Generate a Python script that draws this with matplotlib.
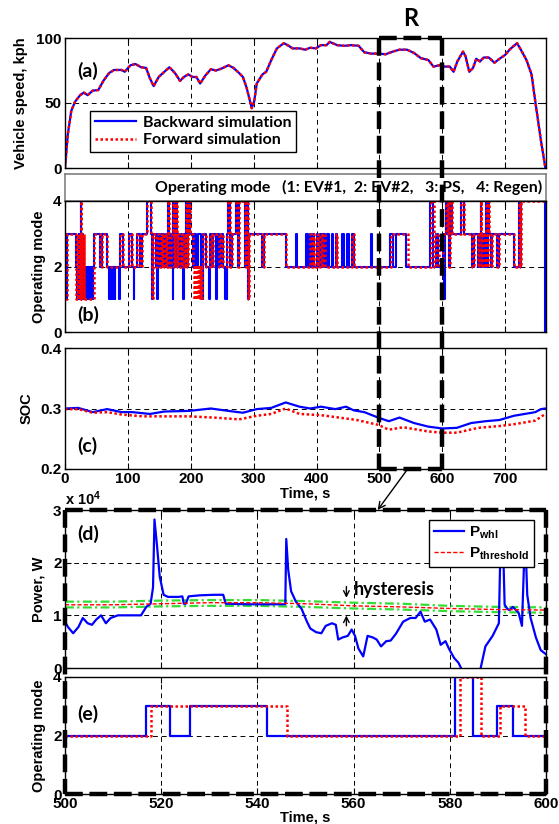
import matplotlib
matplotlib.use("Agg")
import matplotlib.pyplot as plt
from matplotlib.lines import Line2D
from matplotlib.patches import ConnectionPatch
import matplotlib.transforms as mtrans

plt.rcParams['font.family'] = ['Liberation Sans', 'DejaVu Sans']
plt.rcParams['font.weight'] = 'bold'
plt.rcParams['mathtext.fontset'] = 'custom'
plt.rcParams['mathtext.rm'] = 'Liberation Sans:bold'
plt.rcParams['mathtext.bf'] = 'Liberation Sans:bold'
plt.rcParams['mathtext.it'] = 'Liberation Sans:bold'

# ---------------- data ----------------
speed_t = [0, 4.5, 10, 16, 24, 30, 36, 44, 53, 61, 70, 78, 90, 95, 104, 112, 121, 129, 135, 141,
           149, 158, 166, 175, 183, 189, 196, 203, 209, 215, 223, 232, 240, 249, 260, 268, 277,
           283, 289, 297, 301, 305, 314, 320, 328, 337, 348, 354, 362, 373, 382, 390, 399, 407,
           416, 421, 433, 444, 455, 467, 476, 487, 498, 510, 521, 532, 544, 555, 566, 578, 586,
           595, 604, 612, 618, 624, 633, 637, 643, 649, 654, 660, 666, 674, 683, 691, 700, 708,
           719, 725, 734, 742, 748, 757, 764]
speed_bwd = [0, 26, 44, 51, 56, 58, 56, 59.5, 60, 67, 73, 75.4, 75.4, 74, 79, 80, 77.5, 77, 69, 63,
             70, 74, 77.5, 73, 67, 70, 72, 70, 70, 65, 71, 76, 75, 76.5, 79, 77, 73,
             70, 61.5, 46, 51.5, 65, 72, 74, 83, 92, 96, 94.5, 92, 92, 91, 92.5, 92, 94.5,
             94.5, 97, 94.5, 94, 94.5, 94, 89, 88, 88, 87.5, 89.5, 91, 91, 88.5, 84.5, 83, 78,
             79, 78, 78, 74, 82, 89.5, 86, 74, 77, 84, 82, 85, 85, 81, 84, 87, 91.5,
             96, 91, 83, 72, 51, 21, 0]
speed_fwd = list(speed_bwd)

mode_bwd = [(0, 0), (0.4, 1), (3, 3), (18, 2), (19, 1), (20, 2), (21, 1), (22, 3), (23, 1), (24, 2),
            (25, 4), (26, 1), (27, 3), (28, 1), (29, 2), (30, 1), (31, 2), (32, 1), (33, 2), (34, 1),
            (35, 2), (36, 1), (37, 2), (38, 1), (39, 2), (40, 1), (41, 2), (42, 1), (43, 2), (44, 1),
            (45, 2), (46, 3), (55, 2), (59, 3), (67, 2), (70, 1), (71, 2), (72, 1), (73, 2), (74, 1),
            (75, 2), (76, 1), (77, 2), (79, 1), (80, 2), (86, 1), (87, 2), (88, 3), (93, 2), (101, 3),
            (106, 2), (109, 1), (110, 2), (114, 3), (120, 2), (123, 3), (131, 4), (136, 3), (139, 1),
            (140, 3), (144, 2), (146, 3), (147, 1), (148, 3), (150, 2), (152, 3), (154, 2), (156, 3),
            (158, 2), (160, 3), (162, 2), (164, 4), (165, 3), (167, 2), (169, 3), (171, 1), (172, 4),
            (173, 2), (175, 3), (177, 4), (178, 2), (180, 3), (182, 2), (184, 3), (186, 2), (188, 1),
            (189, 3), (191, 2), (193, 4), (194, 2), (196, 3), (198, 4), (199, 3), (203, 2), (205, 3),
            (209, 2), (212, 3), (217, 2), (219, 1), (220, 3), (225, 2), (229, 1), (230, 3), (233, 2),
            (236, 3), (240, 1), (241, 3), (245, 2), (248, 3), (252, 2), (254, 1), (256, 2), (257, 1),
            (258, 3), (260, 4), (263, 2), (266, 3), (272, 4), (275, 2), (276, 4), (286, 2), (288, 4),
            (291, 1), (293, 3), (313, 2), (317, 3), (351, 2), (367, 3), (369, 2), (384, 3), (386, 2),
            (389, 3), (391, 2), (394, 3), (396, 2), (401, 3), (403, 2), (405, 3), (408, 2), (411, 3),
            (414, 2), (417, 3), (420, 2), (424, 3), (426, 2), (431, 3), (433, 2), (441, 3), (443, 2),
            (449, 3), (451, 2), (457, 3), (459, 2), (486, 3), (488, 2), (517, 3), (522, 2), (526, 3),
            (542, 2), (581, 4), (585, 2), (590, 3), (593, 2), (601, 3), (603, 1), (604, 3), (606, 4),
            (607, 3), (609, 4), (610, 2), (612, 3), (614, 4), (615, 3), (630, 4), (635, 3), (648, 2),
            (650, 3), (657, 2), (659, 3), (661, 4), (662, 2), (664, 3), (666, 2), (668, 3), (670, 4),
            (671, 2), (673, 4), (675, 3), (677, 2), (679, 3), (687, 2), (690, 3), (714, 2), (722, 4),
            (724, 2), (726, 4), (763, 0), (765, 0)]
mode_fwd = [(0, 1), (3, 3), (18, 1), (20, 3), (21, 1), (23, 3), (24, 1), (25, 4), (26, 1), (27, 3),
            (28, 1), (30, 3), (31, 1), (46, 3), (55, 2), (59, 3), (67, 2), (88, 3), (93, 2), (101, 3),
            (106, 2), (114, 3), (120, 2), (123, 3), (131, 4), (136, 3), (139, 1), (140, 3), (144, 2),
            (146, 3), (150, 2), (152, 3), (154, 2), (156, 3), (158, 2), (160, 3), (162, 2), (164, 4),
            (165, 3), (167, 2), (169, 3), (172, 4), (173, 2), (175, 3), (177, 4), (178, 2), (180, 3),
            (182, 2), (184, 3), (186, 2), (189, 3), (191, 2), (193, 4), (194, 2), (196, 3), (198, 4),
            (199, 3), (203, 2), (205, 1), (206, 2), (207, 1), (208, 2), (209, 1), (210, 2), (211, 1),
            (212, 2), (213, 1), (214, 2), (215, 1), (216, 2), (217, 1), (218, 2), (220, 3), (225, 2),
            (230, 3), (233, 2), (236, 3), (245, 2), (248, 3), (252, 2), (258, 3), (260, 4), (263, 2),
            (266, 3), (272, 4), (275, 2), (276, 4), (286, 2), (288, 4), (291, 1), (293, 3), (313, 2),
            (317, 3), (351, 2), (389, 3), (391, 2), (394, 3), (396, 2), (401, 3), (403, 2), (405, 3),
            (408, 2), (411, 3), (414, 2), (431, 3), (433, 2), (457, 3), (459, 2), (518, 3), (546, 2),
            (582, 4), (586.5, 2), (590.5, 3), (595.6, 2), (601, 3), (606, 4), (607, 3), (609, 4),
            (610, 2), (612, 3), (614, 4), (615, 3), (630, 4), (635, 3), (648, 2), (650, 3), (657, 2),
            (659, 3), (661, 4), (662, 2), (664, 3), (666, 2), (668, 3), (670, 4), (671, 2), (673, 4),
            (675, 3), (677, 2), (679, 3), (687, 2), (690, 3), (714, 2), (722, 4), (724, 2), (726, 4),
            (765, 4)]

soc_t_bwd = [0, 21, 44, 67, 90, 107, 135, 158, 197, 232, 260, 283, 305, 328, 351, 373, 390, 407,
             430, 447, 459, 476, 498, 515, 532, 555, 578, 600, 623, 646, 669, 691, 714, 737, 748,
             757, 764]
soc_bwd = [0.300, 0.301, 0.294, 0.299, 0.294, 0.294, 0.291, 0.295, 0.296, 0.300, 0.296, 0.293,
           0.299, 0.301, 0.310, 0.303, 0.300, 0.303, 0.299, 0.303, 0.297, 0.294, 0.285, 0.279,
           0.285, 0.276, 0.270, 0.267, 0.268, 0.276, 0.279, 0.281, 0.288, 0.292, 0.294, 0.299,
           0.300]
soc_t_fwd = [0, 21, 44, 67, 90, 124, 158, 197, 237, 277, 305, 328, 351, 373, 407, 436, 464, 498,
             515, 538, 578, 600, 623, 657, 691, 714, 737, 748, 764]
soc_fwd = [0.299, 0.299, 0.293, 0.294, 0.290, 0.287, 0.287, 0.287, 0.285, 0.282, 0.288, 0.291,
           0.300, 0.291, 0.289, 0.285, 0.281, 0.273, 0.265, 0.269, 0.262, 0.260, 0.260, 0.268,
           0.271, 0.274, 0.278, 0.280, 0.291]

pwr_t = [500, 500.6, 501.7, 502.8, 503.7, 504.7, 505.6, 506.5, 507.5, 508.5, 509.5, 511, 515.8,
         516.9, 517.8, 518.3, 518.6, 519.1, 519.7, 520.5, 521.4, 523.6, 524.4, 524.7, 525.1,
         525.7, 528, 531, 532.9, 533.4, 538.4, 545.8, 546, 546.4, 547, 548, 549.2, 550.3, 551,
         552.2, 553.3, 554.2, 555.5, 556.3, 556.8, 557.7, 558.8, 559.6, 560.3, 561, 562, 562.9,
         564, 564.8, 565.7, 566.8, 567.7, 568.8, 570.3, 571.8, 572.9, 573.9, 574.8, 575.9, 577.2,
         578.1, 579.1, 579.8, 580.9, 581.8, 582.6, 584, 586.3, 587.4, 588.9, 590.2, 590.6, 591.0,
         591.4, 592, 592.4, 593.1, 594.3, 595.0, 595.4, 595.8, 596.1, 596.8, 597.9, 598.9, 600]
pwr_whl = [0.88, 0.78, 0.66, 0.78, 0.95, 0.85, 0.82, 0.92, 1.0, 0.85, 0.95, 1.0, 1.0,
           1.16, 1.22, 1.53, 2.82, 2.35, 1.73, 1.39, 1.35, 1.35, 1.36, 1.22, 1.22,
           1.36, 1.38, 1.39, 1.39, 1.22, 1.21, 1.21, 2.45, 1.87, 1.46, 1.26, 1.12, 0.88, 0.75,
           0.68, 0.66, 0.80, 0.85, 0.82, 0.54, 0.58, 0.61, 0.73, 0.61, 0.37, 0.22, 0.61,
           0.58, 0.54, 0.41, 0.51, 0.52, 0.65, 0.88, 0.95, 0.95, 1.07, 0.88, 0.92, 0.73,
           0.44, 0.51, 0.37, 0.19, 0.10, -0.05, -0.6, -0.05, 0.41, 0.61, 0.85, 2.6, 2.6,
           1.2, 1.12, 1.1, 1.16, 1.05, 0.80, 1.9, 2.2, 1.39, 0.95, 0.58, 0.34, 0.26]
thr_t = [500, 510, 520, 530, 540, 550, 560, 570, 580, 590, 600]
p_threshold = [1.20, 1.20, 1.22, 1.24, 1.24, 1.22, 1.18, 1.16, 1.13, 1.11, 1.10]
hyst_upper = [1.26, 1.26, 1.28, 1.29, 1.29, 1.27, 1.24, 1.22, 1.18, 1.16, 1.15]
hyst_lower = [1.15, 1.15, 1.17, 1.18, 1.18, 1.16, 1.13, 1.11, 1.08, 1.06, 1.05]

zmode_bwd = [(500, 2), (516.9, 3), (521.9, 2), (526, 3), (542, 2), (581.1, 4), (584.9, 2),
             (589.8, 3), (593.1, 2), (600, 2)]
zmode_fwd = [(500, 2), (517.8, 3), (546.1, 2), (582.2, 4), (586.5, 2), (590.5, 3), (595.6, 2),
             (600, 2)]

mode_title = "Operating mode   (1: EV#1,  2: EV#2,   3: PS,   4: Regen)"

# ---------------- layout ----------------
W, H = 559, 824
fig = plt.figure(figsize=(W / 100, H / 100), dpi=100)

def axes_px(l, t, r, b):
    return fig.add_axes([l / W, 1 - b / H, (r - l) / W, (b - t) / H])

L, R_ = 65, 546
ax_a = axes_px(L, 38, R_, 168)
ax_bt = axes_px(L, 174, R_, 201)
ax_b = axes_px(L, 201, R_, 332)
ax_c = axes_px(L, 348, R_, 469)
ax_d = axes_px(L, 510, R_, 668)
ax_e = axes_px(L, 677, R_, 794)

BLUE = '#0000ff'
RED = '#ff0000'
TICKFS = 11
LABFS = 10.5
ANN = ['Lato', 'DejaVu Sans']
YLX = -0.040

def style(ax):
    ax.tick_params(direction='in', length=4, width=0.8, top=True, right=True,
                   labelsize=TICKFS, pad=2.5)
    for lab in ax.get_xticklabels() + ax.get_yticklabels():
        lab.set_fontweight('bold')
    for s in ax.spines.values():
        s.set_linewidth(1.0)
    ax.grid(True, linestyle=(0, (5, 4)), color='black', linewidth=0.7)
    ax.set_axisbelow(True)

def steps(pairs):
    return [p[0] for p in pairs], [p[1] for p in pairs]

# (a)
ax_a.plot(speed_t, speed_bwd, color=BLUE, lw=1.6, label='Backward simulation')
ax_a.plot(speed_t, speed_fwd, color=RED, lw=1.8, ls=(0, (1, 1)), label='Forward simulation')
ax_a.set_xlim(0, 765)
ax_a.set_ylim(0, 100)
ax_a.set_yticks([0, 50, 100])
ax_a.set_xticks(range(0, 701, 100))
ax_a.set_xticklabels([])
style(ax_a)
ax_a.set_ylabel('Vehicle speed, kph', fontsize=LABFS, fontweight='bold')
ax_a.yaxis.set_label_coords(-0.076, 0.5)
ax_a.text(0.025, 0.75, '(a)', transform=ax_a.transAxes, fontsize=14, fontweight='bold',
          family=ANN, va='center')
leg = ax_a.legend(loc='lower left', bbox_to_anchor=(0.035, 0.06),
                  prop={'family': ANN, 'weight': 'bold', 'size': 11.5},
                  fancybox=False, edgecolor='black', framealpha=1, handlelength=2.6,
                  borderpad=0.3, labelspacing=0.2, handletextpad=0.4)
leg.get_frame().set_linewidth(1.0)

# (b) title box
ax_bt.set_xticks([])
ax_bt.set_yticks([])
for s in ax_bt.spines.values():
    s.set_color('#808080')
    s.set_linewidth(1.2)
ax_bt.text(0.992, 0.5, mode_title, transform=ax_bt.transAxes, ha='right', va='center',
           fontsize=11.4, fontweight='bold', family=ANN)

# (b)
tb, mb = steps(mode_bwd)
tf, mf = steps(mode_fwd)
ax_b.step(tb, mb, where='post', color=BLUE, lw=1.5)
ax_b.step(tf, mf, where='post', color=RED, lw=1.8, ls=(0, (1, 1)))
ax_b.set_xlim(0, 765)
ax_b.set_ylim(0, 4)
ax_b.set_yticks([0, 2, 4])
ax_b.set_xticks(range(0, 701, 100))
ax_b.set_xticklabels([])
style(ax_b)
ax_b.set_ylabel('Operating mode', fontsize=LABFS, fontweight='bold')
ax_b.yaxis.set_label_coords(YLX, 0.5)
ax_b.text(0.025, 0.13, '(b)', transform=ax_b.transAxes, fontsize=14, fontweight='bold',
          family=ANN, va='center')

# (c)
ax_c.plot(soc_t_bwd, soc_bwd, color=BLUE, lw=1.6)
ax_c.plot(soc_t_fwd, soc_fwd, color=RED, lw=1.8, ls=(0, (1, 1)))
ax_c.set_xlim(0, 765)
ax_c.set_ylim(0.2, 0.4)
ax_c.set_yticks([0.2, 0.3, 0.4])
ax_c.set_xticks(range(0, 701, 100))
style(ax_c)
ax_c.set_ylabel('SOC', fontsize=LABFS, fontweight='bold')
ax_c.yaxis.set_label_coords(-0.066, 0.5)
ax_c.set_xlabel('Time, s', fontsize=LABFS, fontweight='bold', labelpad=0)
ax_c.text(0.025, 0.19, '(c)', transform=ax_c.transAxes, fontsize=14, fontweight='bold',
          family=ANN, va='center')

# (d)
ax_d.plot(thr_t, hyst_upper, color='#33dd33', lw=1.6, ls=(0, (4, 1.5, 1, 1.5)))
ax_d.plot(thr_t, hyst_lower, color='#33dd33', lw=1.6, ls=(0, (4, 1.5, 1, 1.5)))
ax_d.plot(pwr_t, pwr_whl, color=BLUE, lw=1.6, label=r'P$_{\mathbf{whl}}$')
ax_d.plot(thr_t, p_threshold, color=RED, lw=1.0, ls=(0, (3, 1.5)), label=r'P$_{\mathbf{threshold}}$')
ax_d.set_xlim(500, 600)
ax_d.set_ylim(0, 3)
ax_d.set_yticks([0, 1, 2, 3])
ax_d.set_xticks([500, 520, 540, 560, 580, 600])
ax_d.set_xticklabels([])
style(ax_d)
ax_d.set_ylabel('Power, W', fontsize=LABFS, fontweight='bold')
ax_d.yaxis.set_label_coords(YLX, 0.5)
ax_d.text(0.0, 1.015, r'x 10$^{4}$', transform=ax_d.transAxes, fontsize=10.5, fontweight='bold',
          va='bottom', ha='left')
ax_d.text(0.025, 0.85, '(d)', transform=ax_d.transAxes, fontsize=14, fontweight='bold',
          family=ANN, va='center')
handles, labels = ax_d.get_legend_handles_labels()
legd = ax_d.legend(handles[-2:], labels[-2:], loc='upper right', bbox_to_anchor=(0.99, 0.985),
                   prop={'weight': 'bold', 'size': 11}, fancybox=False, edgecolor='black',
                   framealpha=1, handlelength=2.0, borderpad=0.3, labelspacing=0.3,
                   handletextpad=0.3)
legd.get_frame().set_linewidth(1.0)
ax_d.annotate('', xy=(558.5, 1.28), xytext=(558.5, 1.6),
              arrowprops=dict(arrowstyle='->', color='black', lw=1.0))
ax_d.annotate('', xy=(558.5, 1.05), xytext=(558.5, 0.75),
              arrowprops=dict(arrowstyle='->', color='black', lw=1.0))
ax_d.text(560.0, 1.5, 'hysteresis', fontsize=13, fontweight='bold', family=ANN,
          va='center', ha='left')

# (e)
te, me = steps(zmode_bwd)
tfe, mfe = steps(zmode_fwd)
ax_e.step(te, me, where='post', color=BLUE, lw=1.6)
ax_e.step(tfe, mfe, where='post', color=RED, lw=1.8, ls=(0, (1, 1)))
ax_e.set_xlim(500, 600)
ax_e.set_ylim(0, 4)
ax_e.set_yticks([0, 2, 4])
ax_e.set_xticks([500, 520, 540, 560, 580, 600])
style(ax_e)
ax_e.set_ylabel('Operating mode', fontsize=LABFS, fontweight='bold')
ax_e.yaxis.set_label_coords(YLX, 0.5)
ax_e.set_xlabel('Time, s', fontsize=LABFS, fontweight='bold', labelpad=-1)
ax_e.text(0.025, 0.68, '(e)', transform=ax_e.transAxes, fontsize=14, fontweight='bold',
          family=ANN, va='center')

# ---------------- zoom region boxes ----------------
thick = dict(color='black', lw=3.2, ls=(0, (4, 1.5)), solid_capstyle='butt')
blend = mtrans.blended_transform_factory(ax_c.transData, fig.transFigure)
top_a = ax_a.get_position().y1
bot_c = ax_c.get_position().y0
for xv in (500, 600):
    fig.add_artist(Line2D([xv, xv], [top_a, bot_c], transform=blend, zorder=10, **thick))
fig.add_artist(Line2D([500, 600], [top_a, top_a], transform=blend, zorder=10, **thick))
fig.add_artist(Line2D([500, 600], [bot_c, bot_c], transform=blend, zorder=10, **thick))
fig.text((ax_c.transData.transform((550, 0))[0]) / W, 1 - 18 / H, 'R', fontsize=17,
         fontweight='bold', family=ANN, ha='center', va='center')

blend2 = mtrans.blended_transform_factory(ax_d.transData, fig.transFigure)
top_d = ax_d.get_position().y1
bot_e = ax_e.get_position().y0
for xv in (500, 600):
    fig.add_artist(Line2D([xv, xv], [top_d, bot_e], transform=blend2, zorder=10, **thick))
fig.add_artist(Line2D([500, 600], [top_d, top_d], transform=blend2, zorder=10, **thick))
fig.add_artist(Line2D([500, 600], [bot_e, bot_e], transform=blend2, zorder=10, **thick))

con = ConnectionPatch(xyA=(545, 0.2), coordsA=ax_c.transData,
                      xyB=(565, 3.0), coordsB=ax_d.transData,
                      arrowstyle='->', color='black', lw=1.0, mutation_scale=12, zorder=11)
fig.add_artist(con)

fig.savefig('out.png', dpi=100)
